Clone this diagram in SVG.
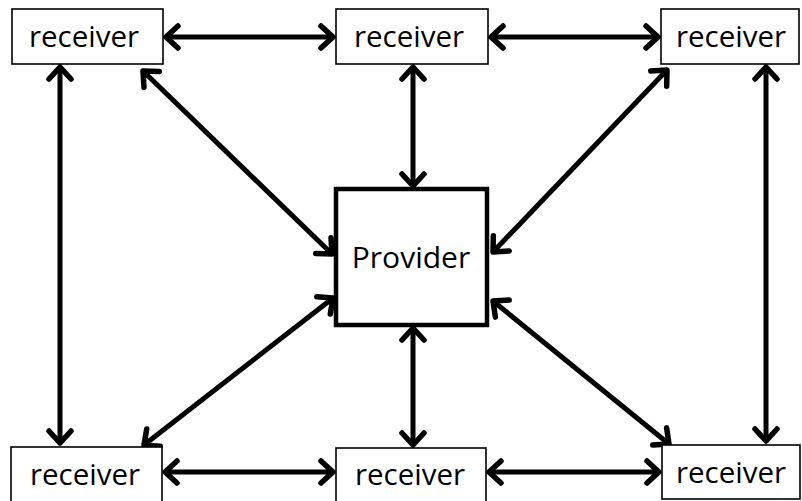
<svg xmlns="http://www.w3.org/2000/svg" width="802" height="501" viewBox="0 0 802 501">
<defs>
<marker id="ah" markerUnits="userSpaceOnUse" markerWidth="30" markerHeight="30" viewBox="-20 -15 25 30" refX="0" refY="0" orient="auto-start-reverse">
<path d="M -12 -11 L 0 0 L -12 11" fill="none" stroke="#000" stroke-width="5.5" stroke-linecap="round" stroke-linejoin="round"/>
</marker>
</defs>
<style>
.box{fill:#fff;stroke:#000;stroke-width:1.6}
.prov{fill:#fff;stroke:#000;stroke-width:4.5}
.t{font-family:"Open Sans","Noto Sans",sans-serif;font-size:29.5px;fill:#000;text-anchor:middle}
.c line{stroke:#000;stroke-width:5;marker-start:url(#ah);marker-end:url(#ah)}
</style>
<rect width="802" height="501" fill="#fff"/>
<g id="connectors" class="c">
<line x1="166" y1="37" x2="333" y2="37"/>
<line x1="491" y1="37" x2="658" y2="37"/>
<line x1="165" y1="472" x2="333" y2="472"/>
<line x1="489" y1="472" x2="659" y2="472"/>
<line x1="60" y1="67" x2="60" y2="443"/>
<line x1="766" y1="67" x2="766" y2="441"/>
<line x1="413" y1="67" x2="413" y2="186"/>
<line x1="413" y1="328" x2="413" y2="445"/>
<line x1="143" y1="71" x2="332" y2="254"/>
<line x1="667" y1="70" x2="493" y2="252"/>
<line x1="333" y1="298" x2="144" y2="445"/>
<line x1="493" y1="301" x2="669" y2="444"/>
</g>
<g id="n1"><rect class="box" x="12" y="9" width="151" height="55"/><text class="t" x="84" y="47">receiver</text></g>
<g id="n2"><rect class="box" x="336" y="9" width="152" height="55"/><text class="t" x="409" y="47">receiver</text></g>
<g id="n3"><rect class="box" x="661" y="9" width="138" height="55"/><text class="t" x="731" y="47">receiver</text></g>
<g id="n4"><rect class="box" x="11" y="447" width="151" height="60"/><text class="t" x="85" y="485">receiver</text></g>
<g id="n5"><rect class="box" x="336" y="448" width="150" height="60"/><text class="t" x="410" y="485">receiver</text></g>
<g id="n6"><rect class="box" x="662" y="445" width="138" height="54"/><text class="t" x="731" y="483">receiver</text></g>
<g id="provider"><rect class="prov" x="336" y="189" width="151" height="136"/><text class="t" x="411" y="268" style="font-size:30px">Provider</text></g>
</svg>
